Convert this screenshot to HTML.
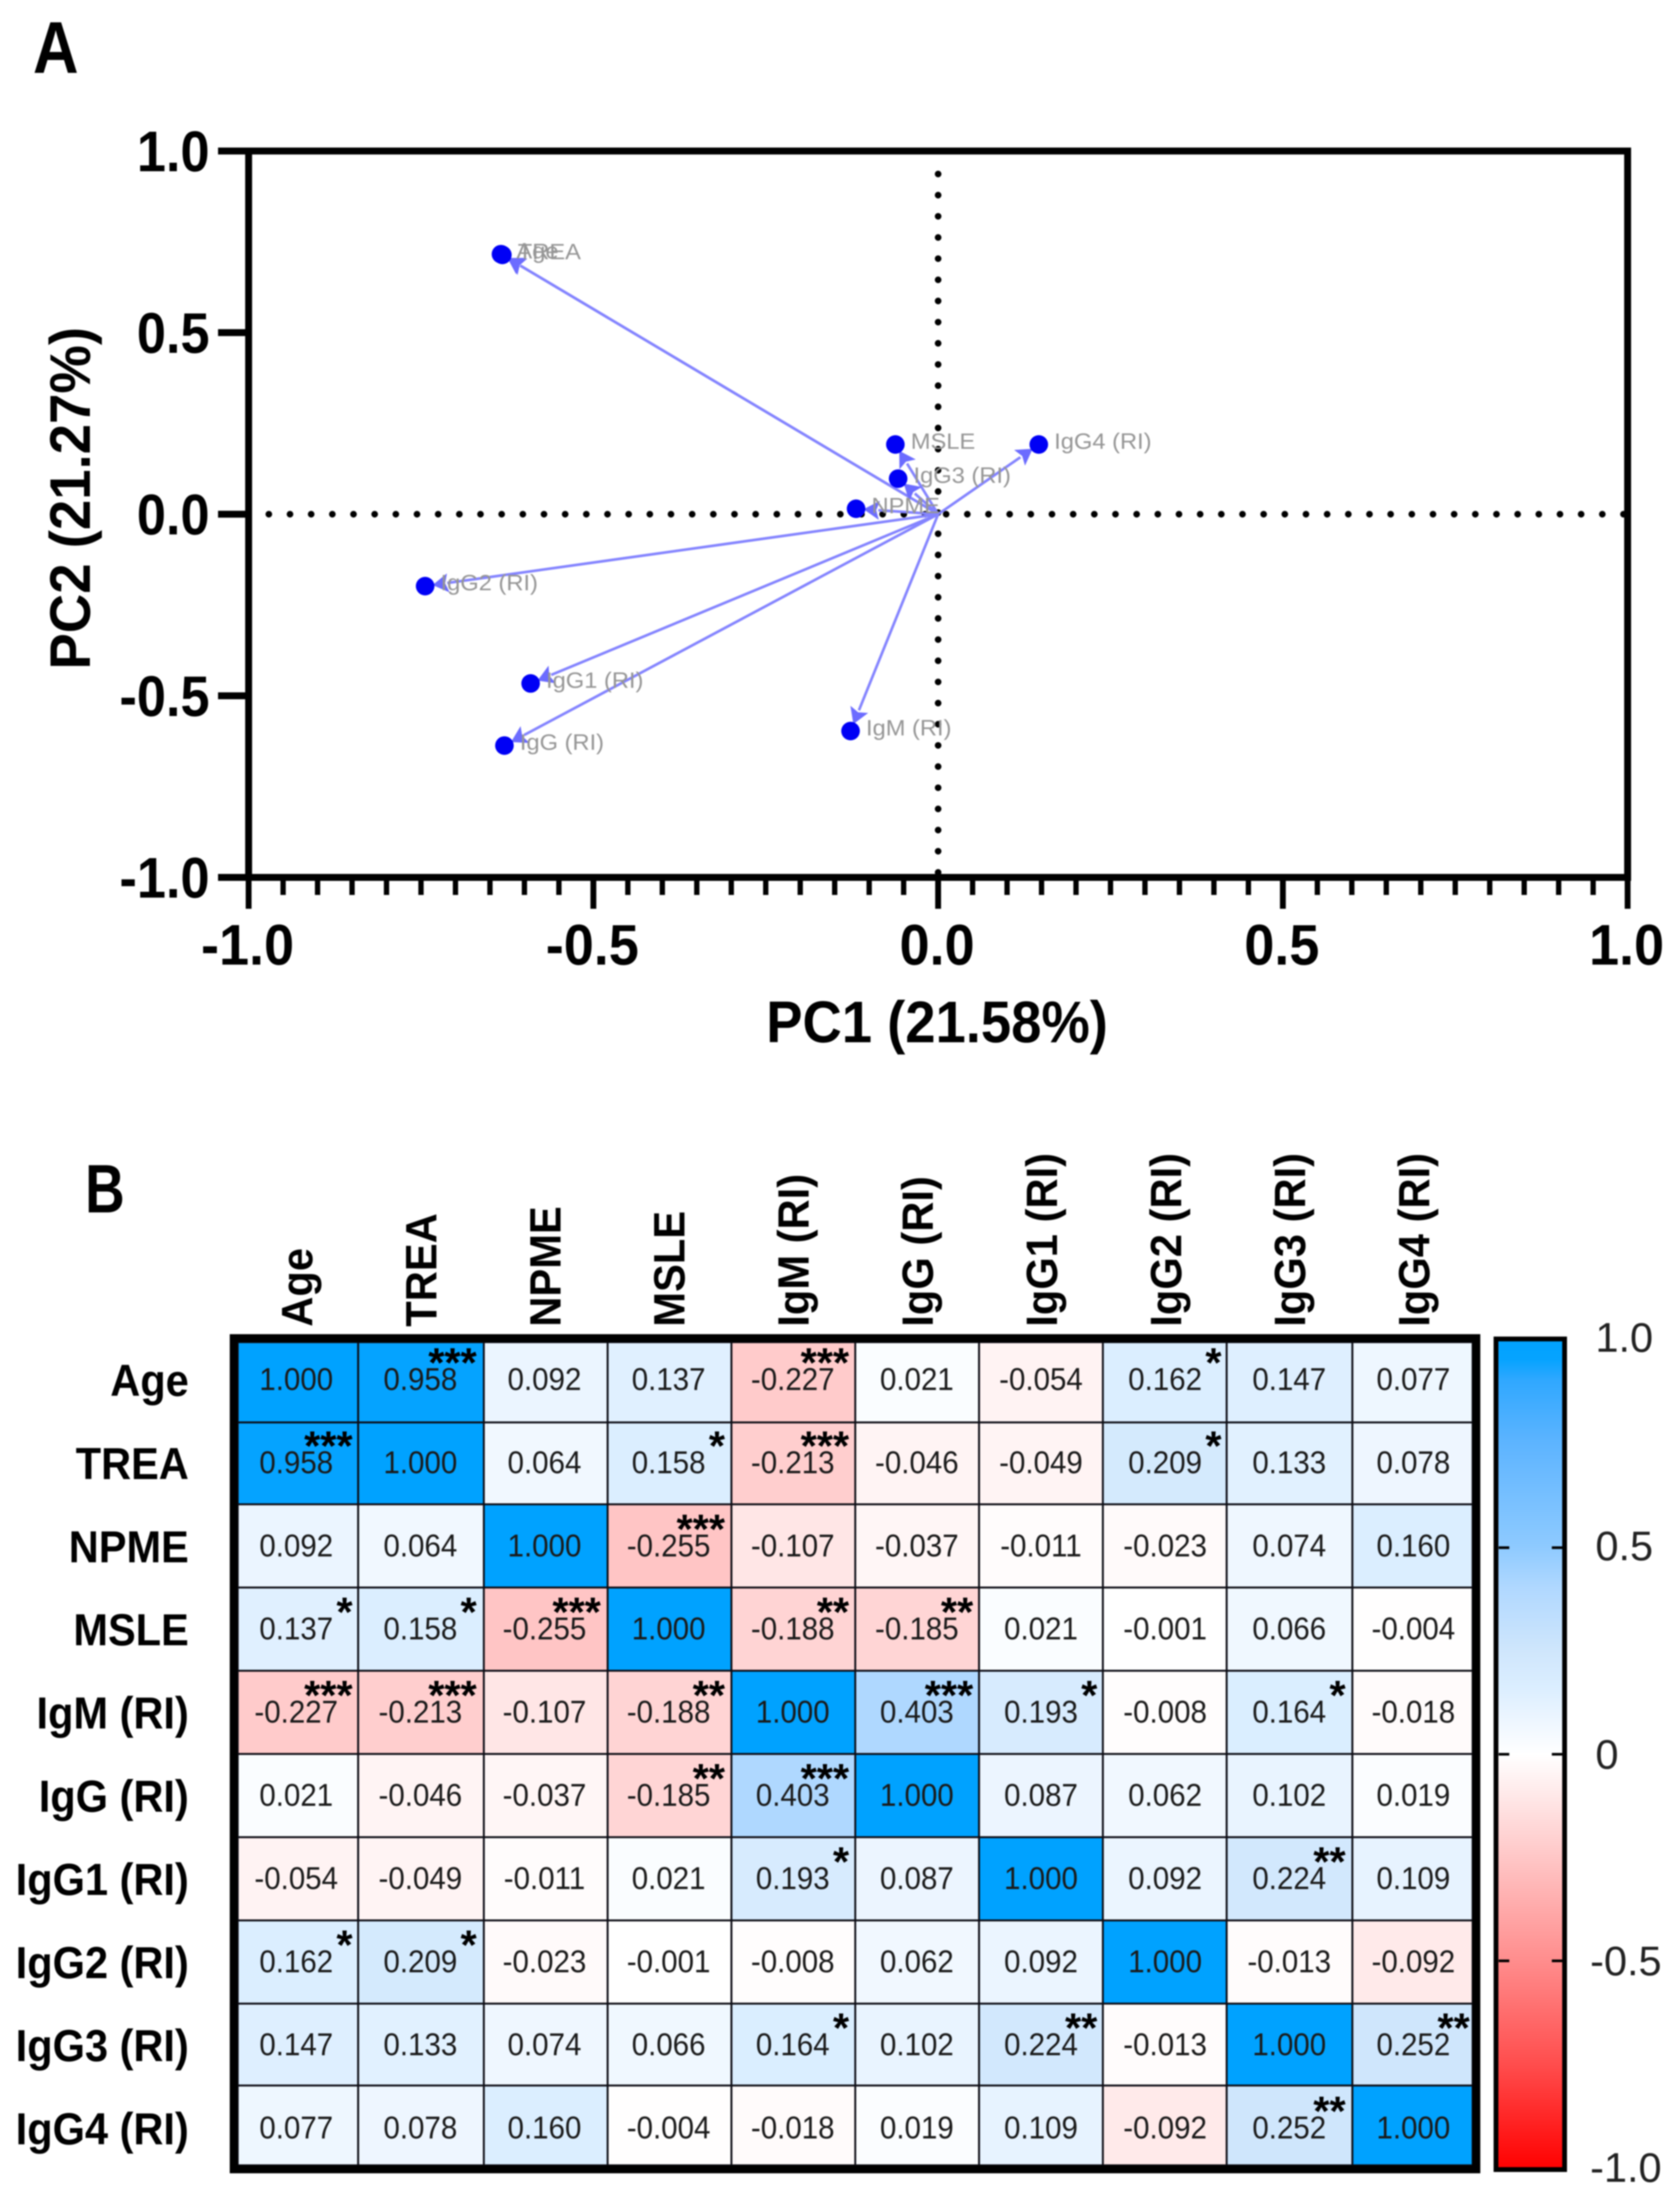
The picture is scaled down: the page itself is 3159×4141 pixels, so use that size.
<!DOCTYPE html>
<html>
<head>
<meta charset="utf-8">
<title>PCA biplot and correlation heatmap</title>
<style>
html,body{margin:0;padding:0;background:#fff;}
svg{display:block;filter:blur(1.4px);}
text{font-family:"Liberation Sans",sans-serif;}
</style>
</head>
<body>
<svg id="fig" xmlns="http://www.w3.org/2000/svg" width="3159" height="4141" viewBox="0 0 3159 4141">
<rect x="0" y="0" width="3159" height="4141" fill="#fff"/>
<defs><linearGradient id="cbGrad" x1="0" y1="0" x2="0" y2="1"></linearGradient></defs>
<g id="panelA"></g>
<g id="panelB"></g>
</svg>
<script>
// ---- Panel A data ----
const loadingNames = ['Age','TREA','NPME','MSLE','IgM (RI)','IgG (RI)','IgG1 (RI)','IgG2 (RI)','IgG3 (RI)','IgG4 (RI)'];
const pc1Values = [-0.634,-0.632,-0.119,-0.062,-0.127,-0.629,-0.591,-0.744,-0.058,0.146];
const pc2Values = [0.716,0.714,0.015,0.192,-0.597,-0.637,-0.466,-0.198,0.098,0.192];
const xTickValues = [-1,-0.5,0,0.5,1];
const yTickValues = [-1,-0.5,0,0.5,1];
const xTickLabels = ['-1.0','-0.5','0.0','0.5','1.0'];
const yTickLabels = ['-1.0','-0.5','0.0','0.5','1.0'];
const xMinorStep = 0.05;
const xTitle = 'PC1 (21.58%)';
const yTitle = 'PC2 (21.27%)';

// ---- Panel B data ----
const rowLabels = ['Age','TREA','NPME','MSLE','IgM (RI)','IgG (RI)','IgG1 (RI)','IgG2 (RI)','IgG3 (RI)','IgG4 (RI)'];
const colLabels = ['Age','TREA','NPME','MSLE','IgM (RI)','IgG (RI)','IgG1 (RI)','IgG2 (RI)','IgG3 (RI)','IgG4 (RI)'];
const corrValues = [
 [1,0.958,0.092,0.137,-0.227,0.021,-0.054,0.162,0.147,0.077],
 [0.958,1,0.064,0.158,-0.213,-0.046,-0.049,0.209,0.133,0.078],
 [0.092,0.064,1,-0.255,-0.107,-0.037,-0.011,-0.023,0.074,0.160],
 [0.137,0.158,-0.255,1,-0.188,-0.185,0.021,-0.001,0.066,-0.004],
 [-0.227,-0.213,-0.107,-0.188,1,0.403,0.193,-0.008,0.164,-0.018],
 [0.021,-0.046,-0.037,-0.185,0.403,1,0.087,0.062,0.102,0.019],
 [-0.054,-0.049,-0.011,0.021,0.193,0.087,1,0.092,0.224,0.109],
 [0.162,0.209,-0.023,-0.001,-0.008,0.062,0.092,1,-0.013,-0.092],
 [0.147,0.133,0.074,0.066,0.164,0.102,0.224,-0.013,1,0.252],
 [0.077,0.078,0.160,-0.004,-0.018,0.019,0.109,-0.092,0.252,1]
];
const starCounts = [
 [0,3,0,0,3,0,0,1,0,0],
 [3,0,0,1,3,0,0,1,0,0],
 [0,0,0,3,0,0,0,0,0,0],
 [1,1,3,0,2,2,0,0,0,0],
 [3,3,0,2,0,3,1,0,1,0],
 [0,0,0,2,3,0,0,0,0,0],
 [0,0,0,0,1,0,0,0,2,0],
 [1,1,0,0,0,0,0,0,0,0],
 [0,0,0,0,1,0,2,0,0,2],
 [0,0,0,0,0,0,0,0,2,0]
];
const cbTickValues = [-0.5,0,0.5];
const cbLabelValues = [-1,-0.5,0,0.5,1];
const cbLabelTexts = ['-1.0','-0.5','0','0.5','1.0'];
const posScale = [[0,'#ffffff'],[0.1,'#e9f4ff'],[0.16,'#dbeeff'],[0.25,'#cfe6fc'],[0.4,'#b0d8ff'],[0.5,'#8ecaff'],[0.75,'#5db4ff'],[0.9,'#30a8ff'],[0.95,'#06a3ff'],[1,'#00a2ff']];
const negScale = [[0,'#ffffff'],[0.1,'#ffe8e8'],[0.25,'#ffc6c6'],[0.5,'#ff8c8c'],[0.75,'#ff4c4c'],[1,'#ff0000']];

const NS = 'http://www.w3.org/2000/svg';
const panelA = document.getElementById('panelA');
const panelB = document.getElementById('panelB');

function mk(tag, attrs, parent){
  const e = document.createElementNS(NS, tag);
  for (const k in attrs) e.setAttribute(k, attrs[k]);
  parent.appendChild(e);
  return e;
}
function txt(str, x, y, size, o, parent){
  const r = o.rot || 0, sx = o.sx || 1;
  const e = mk('text', {
    transform: 'translate(' + x + ',' + y + ') rotate(' + r + ') scale(' + sx + ',1)',
    'font-size': size, 'font-weight': o.bold ? 'bold' : 'normal',
    fill: o.fill || '#000', 'text-anchor': o.anchor || 'start'
  }, parent);
  e.textContent = str;
  return e;
}
function hex(c){ return [1,3,5].map(i => parseInt(c.substr(i,2),16)); }
function colorFor(v){
  const s = v >= 0 ? posScale : negScale, a = Math.min(1, Math.abs(v));
  for (let i = 1; i < s.length; i++){
    if (a <= s[i][0]){
      const t = (a - s[i-1][0]) / (s[i][0] - s[i-1][0]);
      const c0 = hex(s[i-1][1]), c1 = hex(s[i][1]);
      return 'rgb(' + c0.map((c,k) => Math.round(c + (c1[k]-c)*t)).join(',') + ')';
    }
  }
  return s[s.length-1][1];
}

// ---- Panel A axes ----
const xA = v => 1764 + v * 1296.5;
const yA = v => 967 - v * 683;

let el = txt('A', 62, 137, 138, {bold:true, sx:0.86}, panelA);



// dotted zero lines
for (let x = xA(-1) + 38; x < xA(1) - 4; x += 39.8){
  el = mk('circle', {cx:x, cy:yA(0), r:6.2, fill:'#000'}, panelA);
  
  
}
for (let y = yA(0) - 3 - 39.8 * 17; y < yA(-1) - 4; y += 39.8){
  if (y < yA(1) + 8) continue;
  el = mk('circle', {cx:xA(0), cy:y, r:6.2, fill:'#000'}, panelA);
  
  
}

// frame
el = mk('rect', {x:xA(-1), y:yA(1), width:xA(1)-xA(-1), height:yA(-1)-yA(1), fill:'none', stroke:'#000', 'stroke-width':13}, panelA);



// x ticks
for (let i = 0; i <= 40; i++){
  const v = -1 + i * xMinorStep;
  const major = i % 10 === 0;
  if (major) continue;
  el = mk('line', {x1:xA(v), x2:xA(v), y1:yA(-1), y2:1683, stroke:'#000', 'stroke-width':10}, panelA);
  
  
}
xTickValues.forEach((v,i) => {
  let t = mk('line', {x1:xA(v), x2:xA(v), y1:yA(-1), y2:1709, stroke:'#000', 'stroke-width':11}, panelA);
  
  
  t = txt(xTickLabels[i], xA(v) - 2, 1814, 108, {bold:true, anchor:'middle', sx:0.94}, panelA);
  
  
});
yTickValues.forEach((v,i) => {
  let t = mk('line', {x1:410, x2:xA(-1), y1:yA(v), y2:yA(v), stroke:'#000', 'stroke-width':13}, panelA);
  
  
  t = txt(yTickLabels[i], 394, yA(v) + 38, 108, {bold:true, anchor:'end', sx:0.91}, panelA);
  
  
});
el = txt(xTitle, 1762, 1960, 110, {bold:true, anchor:'middle', sx:0.93}, panelA);


el = txt(yTitle, 169, 937, 108, {bold:true, anchor:'middle', rot:-90, sx:0.95}, panelA);



// arrows, points, labels
loadingNames.forEach((n,i) => {
  const px = xA(pc1Values[i]), py = yA(pc2Values[i]);
  const ox = xA(0), oy = yA(0);
  const L = Math.hypot(px-ox, py-oy), ux = (px-ox)/L, uy = (py-oy)/L;
  const tipX = px - ux*14, tipY = py - uy*14;
  const baseX = tipX - ux*28, baseY = tipY - uy*28;
  const nx = -uy, ny = ux;
  let a = mk('line', {x1:ox, y1:oy, x2:baseX, y2:baseY, stroke:'#8484ff', 'stroke-width':5}, panelA);
  
  
  const pts = [[tipX,tipY],[baseX+nx*18-ux*2,baseY+ny*18-uy*2],[baseX+ux*4,baseY+uy*4],[baseX-nx*18-ux*2,baseY-ny*18-uy*2]];
  a = mk('polygon', {points:pts.map(p => p.join(',')).join(' '), fill:'#6c6cff'}, panelA);
  
  
});
loadingNames.forEach((n,i) => {
  const px = xA(pc1Values[i]), py = yA(pc2Values[i]);
  let d = mk('circle', {cx:px, cy:py, r:17.5, fill:'#0000f5'}, panelA);
  
  
  d = txt(n, px + 29, py + 8, 42, {fill:'#969696', sx:1.06}, panelA);
  
  
});

// ---- Panel B ----
// cell edges of the slightly irregular grid
const xB = c => c === 0 ? 447 : c === 1 ? 673.5 : c === 9 ? 2543 : c === 10 ? 2769 : 677 + 232.8 * (c - 1);
const yB = r => r === 0 ? 2524 : r === 1 ? 2675 : r === 9 ? 3922 : r === 10 ? 4072 : 2829 + 156.5 * (r - 2);
// text centres and baselines
const tc = c => 557 + 233.4 * c;
const tb = r => 2614 + 156.4 * r;
const fmt = v => v.toFixed(3);

el = txt('B', 160, 2280, 129, {bold:true, sx:0.8}, panelB);



corrValues.forEach((row,r) => {
  row.forEach((v,c) => {
    let k = mk('rect', {x:xB(c), y:yB(r), width:xB(c+1)-xB(c), height:yB(r+1)-yB(r), fill:colorFor(v), stroke:'#0c0c14', 'stroke-width':3.5}, panelB);
    
    
  });
});
corrValues.forEach((row,r) => {
  row.forEach((v,c) => {
    let k = txt(fmt(v), tc(c), tb(r), 59, {anchor:'middle', sx:0.94, fill:'#1a1a1a'}, panelB);
    
    
    const n = starCounts[r][c];
    if (n > 0){
      k = txt('*'.repeat(n), tc(c) + 106, tb(r) - 25, 78, {anchor:'end', bold:true}, panelB);
      
      
    }
  });
});
el = mk('rect', {x:439.5, y:2516.5, width:2336.5, height:1563, fill:'none', stroke:'#000', 'stroke-width':15}, panelB);



rowLabels.forEach((n,r) => {
  const k = txt(n, 355, 2625 + 156.4 * r, 84, {bold:true, anchor:'end', sx:0.93}, panelB);
  
  
});
colLabels.forEach((n,c) => {
  const k = txt(n, tc(c) + 30, 2495, 83, {bold:true, rot:-90, sx:0.945}, panelB);
  
  
});

// colour bar
const yC = v => 3299 - v * 777;
const grad = document.getElementById('cbGrad');
posScale.slice().reverse().forEach(s => {
  const st = mk('stop', {offset:(1 - s[0]) / 2, 'stop-color':s[1]}, grad);
  
  
});
negScale.forEach(s => {
  const st = mk('stop', {offset:(1 + s[0]) / 2, 'stop-color':s[1]}, grad);
  
  
});
el = mk('rect', {x:2813, y:yC(1)-4, width:129, height:yC(-1)-yC(1)+8, fill:'url(#cbGrad)', stroke:'#000', 'stroke-width':9}, panelB);


cbTickValues.forEach(v => {
  let t = mk('line', {x1:2818, x2:2838, y1:yC(v), y2:yC(v), stroke:'#000', 'stroke-width':5}, panelB);
  
  
  t = mk('line', {x1:2918, x2:2938, y1:yC(v), y2:yC(v), stroke:'#000', 'stroke-width':5}, panelB);
  
  
});
cbLabelValues.forEach((v,i) => {
  const lx = v < 0 ? 2990 : 3000;
  const ly = yC(v) + 27 - Math.max(0, v) * 7;
  const t = txt(cbLabelTexts[i], lx, ly, 78, {fill:'#222'}, panelB);
  
  
});
</script>
</body>
</html>
